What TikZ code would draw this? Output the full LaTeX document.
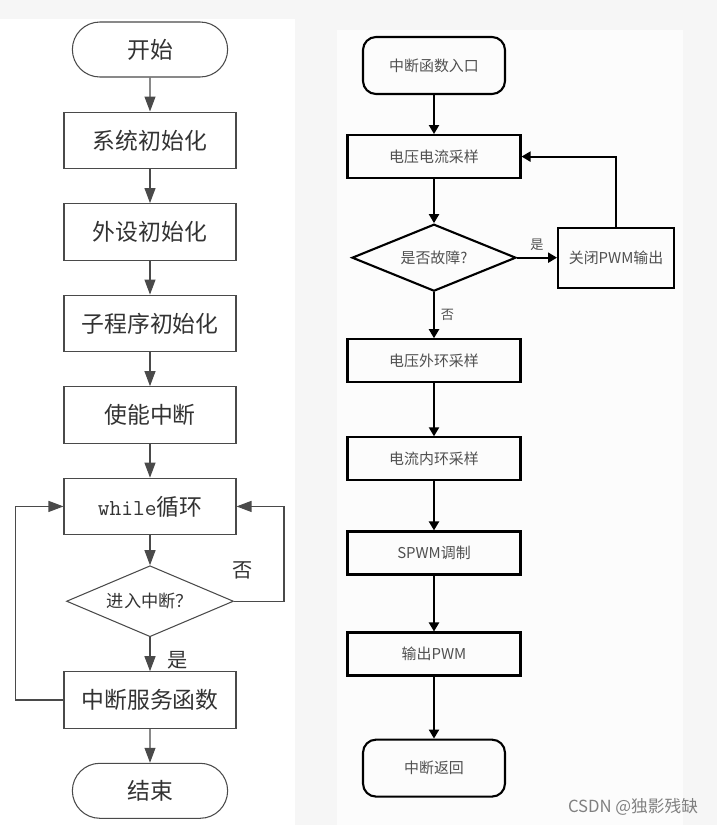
\documentclass[tikz,border=0pt]{standalone}
\usepackage{fontspec}
\setmainfont{Noto Sans CJK SC}
\usepackage{xcolor}
\usepackage{tikz}
\usetikzlibrary{positioning,arrows.meta,shapes.geometric,shapes.misc}
\definecolor{cfondo}{HTML}{F6F6F6}
\definecolor{cpanel}{HTML}{FCFCFC}
\definecolor{clinea}{HTML}{4A4A4A}
\definecolor{ctexto}{HTML}{333333}
\definecolor{ctextor}{HTML}{505050}
\tikzset{
  termL/.style={rounded rectangle, draw=clinea, line width=0.6pt, text=ctexto,
    minimum width=3.34cm, minimum height=1.1cm, font=\fontsize{13}{15}\selectfont},
  boxL/.style={rectangle, draw=clinea, line width=0.6pt, text=ctexto,
    minimum width=3.44cm, minimum height=1.13cm, font=\fontsize{13}{15}\selectfont},
  rombL/.style={diamond, shape aspect=2.35, draw=clinea, line width=0.6pt, text=ctexto, inner sep=0pt,
    minimum width=3.34cm, minimum height=1.42cm, font=\fontsize{9.8}{12}\selectfont},
  termR/.style={rectangle, rounded corners=0.26cm, draw=black, line width=1.2pt,
    text=ctextor, minimum width=2.84cm, minimum height=1.14cm, font=\fontsize{8.5}{10}\selectfont},
  boxR/.style={rectangle, draw=black, line width=1.2pt, text=ctextor,
    minimum width=3.46cm, minimum height=0.86cm, font=\fontsize{8.5}{10}\selectfont},
  rombR/.style={diamond, shape aspect=2.4, draw=black, line width=1.2pt, text=ctextor, inner sep=0pt,
    minimum width=3.28cm, minimum height=1.34cm, font=\fontsize{8.5}{10}\selectfont},
  flechaL/.style={-{Triangle[length=0.3cm,width=0.22cm]}, draw=clinea, line width=0.6pt},
  flechaR/.style={-{Triangle[length=0.18cm,width=0.2cm]}, draw=black, line width=1.2pt},
  etqL/.style={text=ctexto, font=\fontsize{11.5}{13}\selectfont},
  etqR/.style={text=ctextor, font=\fontsize{7.5}{9}\selectfont},
}
\begin{document}
\begin{tikzpicture}[x=0.02cm, y=-0.02cm, node distance=0.68cm]
  % fondo y paneles
  \fill[cfondo] (0,0) rectangle (717,825);
  \fill[white] (0,19) rectangle (295,825);
  \fill[cpanel] (337,30) rectangle (683,825);
  \useasboundingbox (0,0) rectangle (717,825);

  % programa principal
  \node[termL] (inicio) at (150,49.5) {开始};
  \node[boxL, below=of inicio] (sisinit) {系统初始化};
  \node[boxL, below=of sisinit] (perinit) {外设初始化};
  \node[boxL, below=of perinit] (subinit) {子程序初始化};
  \node[boxL, below=of subinit] (habint) {使能中断};
  \node[boxL, below=of habint] (bucle) {\texttt{while}循环};
  \node[rombL, below=0.6cm of bucle] (entint) {进入中断？};
  \node[boxL, below=of entint] (servint) {中断服务函数};
  \node[termL, below=of servint] (fin) {结束};
  \node[etqL] (noL) at (243,570) {否};
  \node[etqL] (siL) at (178,660) {是};
  \draw[flechaL] (inicio) -- (sisinit);
  \draw[flechaL] (sisinit) -- (perinit);
  \draw[flechaL] (perinit) -- (subinit);
  \draw[flechaL] (subinit) -- (habint);
  \draw[flechaL] (habint) -- (bucle);
  \draw[flechaL] (bucle) -- (entint);
  \draw[flechaL] (entint) -- (servint);
  \draw[flechaL] (servint) -- (fin);
  \draw[flechaL] (entint.east) -- ++(50,0) |- (bucle.east);
  \draw[flechaL] (servint.west) -- ++(-48,0) |- (bucle.west);

  % rutina de interrupcion
  \node[termR] (entrada) at (434,65.5) {中断函数入口};
  \node[boxR, below=0.78cm of entrada] (muestra) {电压电流采样};
  \node[rombR, below=0.88cm of muestra] (falla) {是否故障?};
  \node[boxR, right=0.8cm of falla, minimum width=2.32cm, minimum height=1.2cm] (apagar) {关闭PWM输出};
  \node[boxR, below=0.92cm of falla] (lazoext) {电压外环采样};
  \node[boxR, below=1.06cm of lazoext] (lazoint) {电流内环采样};
  \node[boxR, below=0.98cm of lazoint] (spwm) {SPWM调制};
  \node[boxR, below=1.12cm of spwm] (salida) {输出PWM};
  \node[termR, below=1.24cm of salida] (retorno) {中断返回};
  \draw[flechaR] (entrada) -- (muestra);
  \draw[flechaR] (muestra) -- (falla);
  \draw[flechaR] (falla) -- (apagar) node[midway, above, etqR] {是};
  \draw[flechaR] (apagar.north) |- (muestra.east);
  \draw[flechaR] (falla) -- (lazoext) node[midway, right, etqR] {否};
  \draw[flechaR] (lazoext) -- (lazoint);
  \draw[flechaR] (lazoint) -- (spwm);
  \draw[flechaR] (spwm) -- (salida);
  \draw[flechaR] (salida) -- (retorno);

  \node[text=gray, font=\fontsize{9.5}{11}\selectfont] (marca) at (633,807) {CSDN @独影残缺};
\end{tikzpicture}
\end{document}
